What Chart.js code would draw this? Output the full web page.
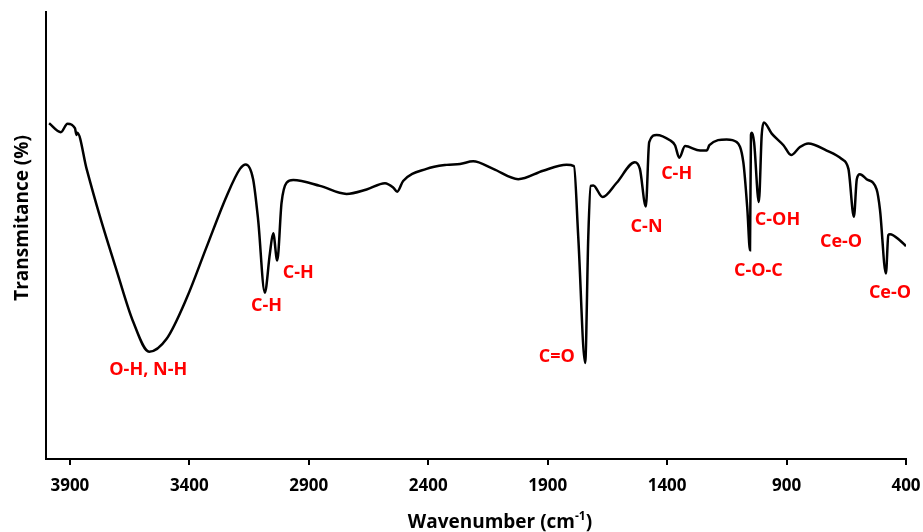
<!DOCTYPE html>
<html>
<head>
<meta charset="utf-8">
<script src="https://cdn.jsdelivr.net/npm/chart.js@4/dist/chart.umd.min.js"></script>
<style>
  html, body { margin: 0; padding: 0; background: #fff; }
  #wrap { width: 923px; height: 532px; }
</style>
</head>
<body>
<div id="wrap"><canvas id="ftir"></canvas></div>
<script>
// wavenumber (cm-1) and transmittance (arbitrary %)
const numeroOnda = [3987, 3938, 3910, 3879, 3872, 3869, 3830, 3774, 3704, 3635, 3568, 3495, 3411, 3328, 3244,
  3188, 3164, 3133, 3112, 3084, 3063, 3049, 3032, 3014, 2993, 2965, 2853, 2742, 2658, 2581, 2546, 2530, 2505,
  2407, 2323, 2267, 2212, 2128, 2023, 1919, 1821, 1790, 1772, 1743, 1730, 1720, 1709, 1670, 1611, 1535, 1514,
  1489, 1475, 1444, 1388, 1367, 1349, 1325, 1262, 1234, 1223, 1151, 1109, 1081, 1064, 1053, 1049, 1045, 1036,
  1016, 1004, 995, 962, 913, 881, 844, 809, 732, 669, 641, 618, 606, 593, 565, 523, 509, 484, 474, 467, 425, 400];
const transmitancia = [75.1, 73.1, 75.0, 74.0, 72.5, 73.0, 64.9, 54.2, 42.1, 30.7, 24.0, 26.9, 36.0, 47.4, 58.8,
  64.9, 65.9, 62.6, 53.5, 37.2, 45.9, 50.5, 44.4, 57.3, 61.8, 62.4, 61.1, 59.3, 60.3, 61.7, 60.7, 59.8, 62.2,
  64.9, 65.8, 66.0, 66.6, 64.9, 62.6, 64.5, 65.8, 65.5, 49.7, 21.5, 49.7, 61.1, 61.2, 58.6, 61.8, 66.4, 64.9,
  56.5, 70.9, 72.5, 71.3, 70.2, 67.4, 70.0, 69.0, 69.0, 70.2, 71.5, 70.9, 66.4, 55.8, 46.7, 72.5, 73.0, 70.9,
  57.5, 72.5, 75.3, 72.8, 70.2, 68.0, 69.8, 70.6, 69.0, 67.1, 64.9, 54.2, 62.6, 63.7, 62.6, 60.3, 55.8, 41.5,
  50.1, 50.3, 48.9, 47.6];

const ticksX = [3900, 3400, 2900, 2400, 1900, 1400, 900, 400];

// band assignments and where their labels sit (wavenumber, transmittance)
const bandas = ['O-H, N-H', 'C-H', 'C-H', 'C=O', 'C-N', 'C-H', 'C-O-C', 'C-OH', 'Ce-O', 'Ce-O'];
const bandaX = [3572, 3077, 2944, 1862, 1486, 1360, 1018, 938, 672, 467];
const bandaY = [19.9, 34.3, 41.7, 22.9, 52.0, 63.8, 42.0, 53.4, 48.5, 37.1];

const fonte = '"Open Sans", "Liberation Sans", sans-serif';

const rotulos = {
    id: 'rotulos',
    afterDraw(chart) {
        const ctx = chart.ctx;
        const sx = chart.scales.x;
        const sy = chart.scales.y;
        ctx.save();
        ctx.fillStyle = '#ff0000';
        ctx.font = 'bold 18px ' + fonte;
        ctx.textAlign = 'center';
        ctx.textBaseline = 'middle';
        bandas.forEach((b, i) => {
            ctx.fillText(b, sx.getPixelForValue(bandaX[i]), sy.getPixelForValue(bandaY[i]));
        });

        // axis titles
        ctx.fillStyle = '#000';
        ctx.font = 'bold 19px ' + fonte;
        const t1 = 'Wavenumber (cm', t2 = '-1', t3 = ')';
        const w1 = ctx.measureText(t1).width;
        const w3 = ctx.measureText(t3).width;
        ctx.font = 'bold 12px ' + fonte;
        const w2 = ctx.measureText(t2).width;
        let x0 = 500 - (w1 + w2 + w3) / 2;
        const yb = 528;
        ctx.textAlign = 'left';
        ctx.textBaseline = 'alphabetic';
        ctx.font = 'bold 19px ' + fonte;
        ctx.fillText(t1, x0, yb);
        ctx.font = 'bold 12px ' + fonte;
        ctx.fillText(t2, x0 + w1, yb - 8);
        ctx.font = 'bold 19px ' + fonte;
        ctx.fillText(t3, x0 + w1 + w2, yb);

        ctx.translate(23, 218);
        ctx.rotate(-Math.PI / 2);
        ctx.textAlign = 'center';
        ctx.textBaseline = 'middle';
        ctx.fillText('Transmitance (%)', 0, 0);
        ctx.restore();
    }
};

new Chart(document.getElementById('ftir').getContext('2d'), {
    type: 'line',
    data: {
        datasets: [{
            data: numeroOnda.map((w, i) => ({ x: w, y: transmitancia[i] })),
            borderColor: '#000',
            borderWidth: 2.5,
            pointRadius: 0,
            cubicInterpolationMode: 'monotone',
            fill: false
        }]
    },
    options: {
        responsive: true,
        maintainAspectRatio: false,
        animation: false,
        layout: { padding: { left: 0, right: 17, top: 12, bottom: 0 } },
        plugins: { legend: { display: false }, tooltip: { enabled: false } },
        scales: {
            x: {
                type: 'linear',
                reverse: true,
                min: 400,
                max: 4000,
                afterBuildTicks: (s) => { s.ticks = ticksX.map(v => ({ value: v })); },
                afterFit: (s) => { s.height = 73; s.paddingLeft = 0; s.paddingRight = 0; },
                grid: { drawOnChartArea: false, color: '#000', lineWidth: 2, tickLength: 6 },
                border: { display: true, color: '#000', width: 2 },
                ticks: {
                    color: '#000',
                    font: { family: fonte, size: 17, weight: 'bold' },
                    padding: 11,
                    maxRotation: 0,
                    autoSkip: false,
                    callback: (v) => String(v)
                }
            },
            y: {
                min: 0,
                max: 100,
                afterFit: (s) => { s.width = 46; },
                grid: { display: false },
                border: { display: true, color: '#000', width: 2 },
                ticks: { display: false }
            }
        }
    },
    plugins: [rotulos]
});
</script>
</body>
</html>
